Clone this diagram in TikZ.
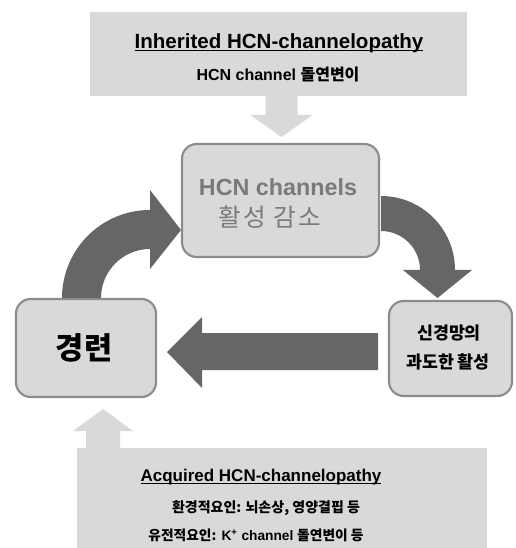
\documentclass[tikz,border=0pt]{standalone}
\usepackage{fontspec}
\setmainfont{Liberation Sans}
\newfontfamily\kr{Noto Sans CJK KR}
\newfontfamily\krwide[LetterSpace=8]{Noto Sans CJK KR}
\usetikzlibrary{calc}
\definecolor{boxfill}{HTML}{D9D9D9}
\definecolor{boxline}{HTML}{8C8C8C}
\definecolor{darkarrow}{HTML}{666666}
\definecolor{lightarrow}{HTML}{D9D9D9}
\definecolor{midtext}{HTML}{7A7A7A}
\newcommand\myul[1]{\setbox0\hbox{#1}\rlap{\rule[-2pt]{\wd0}{0.9pt}}\box0}
\begin{document}
\begin{tikzpicture}[x=0.75pt,y=-0.75pt,
  flatbox/.style={fill=boxfill, draw=none, inner sep=0pt},
  roundbox/.style={fill=boxfill, draw=boxline, line width=1.6pt, rounded corners=11pt, inner sep=0pt},
  txt/.style={inner sep=0pt, anchor=center},
  darkarr/.style={fill=darkarrow},
  lightarr/.style={fill=lightarrow}]
\useasboundingbox (0,0) rectangle (515,548);

% light block arrows
\fill[lightarr] (265.5,95) -- (265.5,115) -- (250.5,115) -- (281.5,137) -- (312.5,115) -- (297.5,115) -- (297.5,95) -- cycle;
\fill[lightarr] (86,449) -- (86,431) -- (73,431) -- (103,409) -- (133,431) -- (120,431) -- (120,449) -- cycle;

% dark block arrows
\fill[darkarr] (378,333) -- (202,333) -- (202,317) -- (167,352) -- (202,388) -- (202,370) -- (378,370) -- cycle;
\fill[darkarr] (62,298) arc[start angle=180, end angle=270, radius=88] -- (150,190) -- (181,230) -- (150,269) -- (150,249) arc[start angle=270, end angle=180, radius=49] -- cycle;
\fill[darkarr] (381,196) arc[start angle=270, end angle=360, radius=74] -- (472,270) -- (437.5,298) -- (403,270) -- (420,270) arc[start angle=360, end angle=270, radius=39] -- cycle;

% boxes
\node[flatbox, minimum width=282.75pt, minimum height=63pt] (inh) at (278.5,54) {};
\node[roundbox, minimum width=147.75pt, minimum height=84.75pt] (hcn) at (280.5,200.5) {};
\node[roundbox, minimum width=105pt, minimum height=73.5pt] (sz) at (86,348) {};
\node[roundbox, minimum width=92.25pt, minimum height=71.25pt] (net) at (450.5,348.5) {};
\node[flatbox, minimum width=307.5pt, minimum height=75pt] (acq) at (282,498) {};

% texts
\node[txt] (inhT) at (279,43) {\fontsize{15.4}{18}\selectfont\bfseries\myul{Inherited HCN-channelopathy}};
\node[txt] (inhS) at (278,75) {\fontsize{12}{14}\selectfont\bfseries HCN channel {\kr\bfseries 돌연변이}};
\node[txt, text=midtext] (hcnT1) at (278,187) {\fontsize{17.5}{20}\selectfont\bfseries HCN channels};
\node[txt, text=midtext] (hcnT2) at (270,217) {\fontsize{18.5}{22}\selectfont\krwide 활성 감소};
\node[txt] (szT) at (84,348) {\fontsize{23}{27}\selectfont\kr\bfseries 경련};
\node[txt] (netT1) at (449,333) {\fontsize{13}{15}\selectfont\kr\bfseries 신경망의};
\node[txt] (netT2) at (448,362) {\fontsize{13}{15}\selectfont\kr\bfseries 과도한 활성};
\node[txt] (acqT) at (261,477) {\fontsize{12.75}{15}\selectfont\bfseries\myul{Acquired HCN-channelopathy}};
\node[txt] (acqL1) at (266,508) {\fontsize{10.5}{13}\selectfont\kr\bfseries 환경적요인: 뇌손상, 영양결핍 등};
\node[txt] (acqL2) at (256,535) {\fontsize{10.3}{13}\selectfont{\kr\bfseries 유전적요인:} \bfseries K\textsuperscript{+} channel {\kr\bfseries 돌연변이 등}};
\end{tikzpicture}
\end{document}
